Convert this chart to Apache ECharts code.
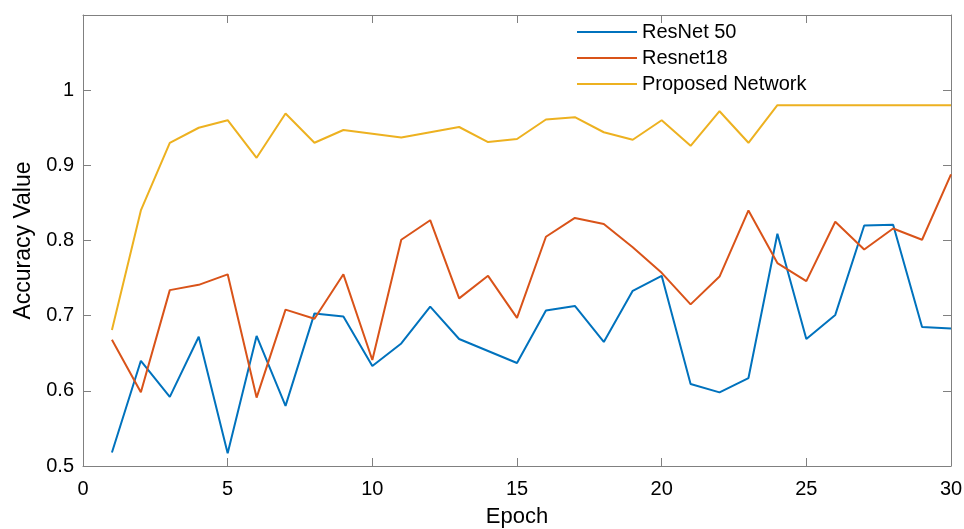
<!DOCTYPE html>
<html>
<head>
<meta charset="utf-8">
<script src="https://cdn.jsdelivr.net/npm/echarts@6/dist/echarts.min.js"></script>
<style>html,body{margin:0;padding:0;background:#fff;}#c{width:964px;height:529px;}</style>
</head>
<body>
<div id="c"></div>
<script>
const epochs = [1,2,3,4,5,6,7,8,9,10,11,12,13,14,15,16,17,18,19,20,21,22,23,24,25,26,27,28,29,30];
const resnet50 = [0.518,0.640,0.592,0.672,0.517,0.673,0.580,0.703,0.699,0.633,0.663,0.712,0.669,0.653,0.637,0.707,0.713,0.665,0.733,0.753,0.609,0.598,0.617,0.809,0.669,0.701,0.820,0.821,0.685,0.683];
const resnet18 = [0.668,0.598,0.734,0.741,0.755,0.591,0.708,0.696,0.755,0.641,0.801,0.827,0.723,0.753,0.697,0.805,0.830,0.822,0.791,0.757,0.715,0.752,0.840,0.770,0.746,0.825,0.788,0.816,0.801,0.888];
const proposed = [0.681,0.840,0.930,0.950,0.960,0.910,0.969,0.930,0.947,0.942,0.937,0.944,0.951,0.931,0.935,0.961,0.964,0.944,0.934,0.960,0.926,0.972,0.930,0.980,0.980,0.980,0.980,0.980,0.980,0.980];
const seriesNames = ['ResNet 50','Resnet18','Proposed Network'];
const xTitle = 'Epoch';
const yTitle = 'Accuracy Value';

const colors = ['#0072BD','#D95319','#EDB120'];
const axisGray = '#808080';
const font = 'Liberation Sans, Arial, Helvetica, sans-serif';
const chart = echarts.init(document.getElementById('c'));
const mk = (d) => epochs.map((e,i)=>[e,d[i]]);
const tickStyle = () => ({show:true, inside:true, length:8, lineStyle:{color:axisGray, width:1}});
const lineStyle = () => ({show:true, onZero:false, lineStyle:{color:axisGray, width:1}});
chart.setOption({
  animation:false,
  color:colors,
  textStyle:{fontFamily:font},
  grid:{left:83, right:13, top:15, bottom:63, containLabel:false, outerBoundsMode:'none'},
  legend:{
    orient:'vertical', left:572, top:17, itemWidth:60, itemHeight:14, itemGap:6,
    textStyle:{fontSize:20, color:'#000', fontFamily:font},
    data:seriesNames.map(n=>({name:n, icon:'path://M0,6 L60,6 L60,8 L0,8 Z'}))
  },
  xAxis:[{
    type:'value', min:0, max:30, interval:5,
    name:xTitle, nameLocation:'middle', nameGap:40,
    nameTextStyle:{fontSize:22, color:'#000', fontFamily:font},
    axisLine:lineStyle(),
    axisTick:tickStyle(),
    axisLabel:{fontSize:20, color:'#000', margin:13, fontFamily:font},
    splitLine:{show:false}
  },{
    type:'value', min:0, max:30, interval:5, position:'top',
    axisLine:lineStyle(),
    axisTick:tickStyle(), axisLabel:{show:false}, splitLine:{show:false}
  }],
  yAxis:[{
    type:'value', min:0.5, max:1.1, interval:0.1, position:'left',
    name:yTitle, nameLocation:'middle', nameGap:48, nameRotate:90,
    nameTextStyle:{fontSize:23, color:'#000', fontFamily:font},
    axisLine:lineStyle(),
    axisTick:tickStyle(),
    axisLabel:{fontSize:20, color:'#000', margin:9, fontFamily:font,
      formatter:(v)=> v>1.05 ? '' : (Math.abs(v-1)<1e-9 ? '1' : v.toFixed(1))},
    splitLine:{show:false}
  },{
    type:'value', min:0.5, max:1.1, interval:0.1, position:'right',
    axisLine:lineStyle(),
    axisTick:tickStyle(), axisLabel:{show:false}, splitLine:{show:false}
  }],
  series:[
    {name:seriesNames[0], type:'line', data:mk(resnet50), symbol:'none', lineStyle:{width:2}},
    {name:seriesNames[1], type:'line', data:mk(resnet18), symbol:'none', lineStyle:{width:2}},
    {name:seriesNames[2], type:'line', data:mk(proposed), symbol:'none', lineStyle:{width:2}}
  ]
});
</script>
</body>
</html>
